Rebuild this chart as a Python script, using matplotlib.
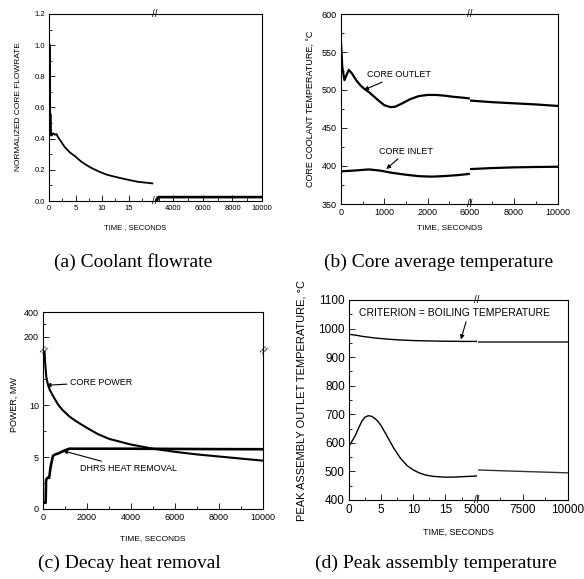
import matplotlib
matplotlib.use("Agg")
import matplotlib.pyplot as plt
import numpy as np
from matplotlib.ticker import MultipleLocator, FixedLocator

plt.rcParams['font.family'] = ['Liberation Sans', 'DejaVu Sans']

# (a) normalized core flowrate
fa_t1 = [0.2, 0.22, 0.27, 0.35, 0.5, 0.8, 1.1, 1.4, 1.7, 2.2, 3, 4, 5, 6, 7, 8, 9.5, 11, 12.5, 14, 15.5, 17, 18.5, 19.5]
fa_v1 = [1.0, 0.42, 0.56, 0.44, 0.42, 0.435, 0.425, 0.43, 0.41, 0.385, 0.345, 0.31, 0.285, 0.255, 0.232, 0.212, 0.188, 0.168, 0.155, 0.143, 0.132, 0.122, 0.117, 0.113]
fa_t2 = [2850, 3000, 10000]
fa_v2 = [0.0, 0.025, 0.025]

# (b) core coolant temperature
out_t1 = [0, 30, 80, 130, 180, 250, 350, 450, 550, 650, 750, 870, 1000, 1140, 1250, 1400, 1600, 1800, 2000, 2200, 2400, 2600, 2800, 2950]
out_v1 = [563, 530, 513, 520, 526.5, 522, 513, 506, 501, 497, 492, 486, 480, 477.5, 478, 482, 488, 492, 493.5, 493.5, 492.5, 491, 490, 489]
out_t2 = [6050, 7000, 8000, 9000, 10000]
out_v2 = [486, 484, 482.5, 481, 479]
in_t1 = [0, 300, 640, 900, 1180, 1500, 1800, 2100, 2400, 2700, 2950]
in_v1 = [393, 394, 395.5, 394, 391, 388.5, 386.6, 386, 386.8, 388, 389.5]
in_t2 = [6050, 7000, 8000, 9000, 10000]
in_v2 = [396, 397.3, 398.2, 398.7, 399]

# (c) decay heat removal
pw_t = [60, 100, 150, 220, 300, 400, 530, 700, 900, 1200, 1500, 2000, 2500, 3000, 4000, 5000, 6000, 7000, 8000, 9000, 10000]
pw_v = [15.5, 14.0, 12.7, 12.0, 11.5, 11.1, 10.6, 10.0, 9.5, 8.9, 8.45, 7.8, 7.2, 6.75, 6.2, 5.8, 5.5, 5.25, 5.05, 4.85, 4.65]
dh_t = [0, 120, 140, 200, 280, 350, 450, 550, 700, 850, 1000, 1200, 2000, 4000, 6000, 8000, 10000]
dh_v = [0.6, 0.6, 2.8, 3.0, 3.0, 4.1, 5.1, 5.25, 5.35, 5.5, 5.65, 5.8, 5.8, 5.8, 5.78, 5.76, 5.75]

# (d) peak assembly outlet temperature
cr_t1 = [0, 1, 2, 3, 4, 6, 8, 10, 12, 14, 16, 18, 19.8]
cr_v1 = [980, 977, 973, 970, 967, 963, 960, 958, 957, 956, 955.5, 955, 955]
cr_t2 = [5100, 10000]
cr_v2 = [954, 954]
pk_t1 = [0, 0.5, 1, 1.5, 2, 2.5, 3, 3.5, 4, 4.5, 5, 6, 7, 8, 9, 10, 11, 12, 13, 14, 15, 16, 17, 18, 19, 19.8]
pk_v1 = [588, 607, 627, 652, 676, 690, 695, 693, 686, 675, 660, 620, 580, 546, 521, 505, 494, 487, 483, 481, 480, 480, 481, 482, 483, 484]
pk_t2 = [5100, 7500, 10000]
pk_v2 = [505, 500, 495]

W, H = 584, 579
fig = plt.figure(figsize=(W / 100, H / 100), dpi=100)


def box(l, t, r, b):
    return [l / W, 1 - b / H, (r - l) / W, (b - t) / H]


def style(ax, size):
    ax.patch.set_alpha(0)
    for s in ax.spines.values():
        s.set_linewidth(0.8)
    ax.tick_params(which='both', direction='in', top=False, right=False, labelsize=size, pad=3)
    ax.tick_params(which='major', length=4, width=0.6)
    ax.tick_params(which='minor', length=2.5, width=0.6)


def split_x(l, m, r, t, b, size):
    a1 = fig.add_axes(box(l, t, m, b))
    a2 = fig.add_axes(box(m, t, r, b))
    a1.spines['right'].set_visible(False)
    a2.spines['left'].set_visible(False)
    style(a1, size)
    style(a2, size)
    a2.tick_params(axis='y', which='both', left=False, labelleft=False)
    for y in (0, 1):
        a1.text(1, y, '//', transform=a1.transAxes, ha='center', va='center', fontsize=7)
    return a1, a2


LW = 1.3

# ---- (a)
a1, a2 = split_x(49, 155, 262, 14, 201, 5.5)
a1.plot(fa_t1, fa_v1, color='k', lw=LW, zorder=3)
a2.plot(fa_t2, fa_v2, color='k', lw=LW + 0.6)
a1.set_xlim(0, 20)
a2.set_xlim(2750, 10000)
for a in (a1, a2):
    a.set_ylim(0, 1.2)
a1.yaxis.set_major_locator(MultipleLocator(0.2))
a1.yaxis.set_minor_locator(MultipleLocator(0.1))
a1.yaxis.set_major_formatter(plt.FormatStrFormatter('%.1f'))
a1.xaxis.set_major_locator(FixedLocator([0, 5, 10, 15]))
a1.xaxis.set_minor_locator(MultipleLocator(2.5))
a2.xaxis.set_major_locator(FixedLocator([4000, 6000, 8000, 10000]))
a2.xaxis.set_minor_locator(MultipleLocator(1000))
fig.text(19 / W, 1 - 107 / H, 'NORMALIZED CORE FLOWRATE', rotation=90, ha='center', va='center', fontsize=6)
fig.text(135 / W, 1 - 228 / H, 'TIME , SECONDS', ha='center', va='center', fontsize=5.5)

# ---- (b)
b1, b2 = split_x(341, 470, 558, 14, 204, 6.5)
b1.plot(out_t1, out_v1, color='k', lw=LW + 0.3)
b2.plot(out_t2, out_v2, color='k', lw=LW + 0.3)
b1.plot(in_t1, in_v1, color='k', lw=LW + 0.3)
b2.plot(in_t2, in_v2, color='k', lw=LW + 0.3)
b1.set_xlim(0, 2980)
b2.set_xlim(6000, 10000)
for a in (b1, b2):
    a.set_ylim(350, 600)
b1.yaxis.set_major_locator(MultipleLocator(50))
b1.yaxis.set_minor_locator(MultipleLocator(25))
b1.xaxis.set_major_locator(FixedLocator([0, 1000, 2000]))
b1.xaxis.set_minor_locator(MultipleLocator(500))
b2.xaxis.set_major_locator(FixedLocator([6000, 8000, 10000]))
b2.xaxis.set_minor_locator(MultipleLocator(1000))
arw = dict(arrowstyle='-|>', color='k', lw=0.8, mutation_scale=6, shrinkA=0, shrinkB=0)
b1.annotate('CORE OUTLET', xy=(530, 500), xytext=(600, 520), fontsize=6.5, va='center', arrowprops=arw)
b1.annotate('CORE INLET', xy=(1046, 396), xytext=(885, 419), fontsize=6.5, va='center', arrowprops=arw)
fig.text(310 / W, 1 - 109 / H, 'CORE COOLANT TEMPERATURE, \u00b0C', rotation=90, ha='center', va='center', fontsize=6.5)
fig.text(450 / W, 1 - 228 / H, 'TIME, SECONDS', ha='center', va='center', fontsize=6)

# ---- (c)
cu = fig.add_axes(box(43, 312, 263, 351))
cl = fig.add_axes(box(43, 351, 263, 509))
cu.spines['bottom'].set_visible(False)
cl.spines['top'].set_visible(False)
style(cu, 6.5)
style(cl, 6.5)
cu.tick_params(axis='x', which='both', bottom=False, labelbottom=False)
for a in (cu, cl):
    a.plot(pw_t, pw_v, color='k', lw=LW + 0.2)
    a.plot(dh_t, dh_v, color='k', lw=LW + 0.6)
    a.set_xlim(0, 10000)
cu.set_ylim(84, 400)
cl.set_ylim(0, 15.2)
cu.yaxis.set_major_locator(FixedLocator([200, 400]))
cu.yaxis.set_minor_locator(FixedLocator([300]))
cl.yaxis.set_major_locator(FixedLocator([0, 5, 10]))
cl.yaxis.set_minor_locator(FixedLocator([2.5, 7.5, 12.5]))
cl.xaxis.set_major_locator(MultipleLocator(2000))
cl.xaxis.set_minor_locator(MultipleLocator(1000))
for x in (0, 1):
    cl.text(x, 1, '//', transform=cl.transAxes, ha='center', va='center', fontsize=7, rotation=-30)
cl.annotate('CORE POWER', xy=(150, 11.9), xytext=(1212, 12.2), fontsize=6.5, va='center', arrowprops=arw)
cl.annotate('DHRS HEAT REMOVAL', xy=(910, 5.6), xytext=(1667, 3.9), fontsize=6.5, va='center', arrowprops=arw)
fig.text(14 / W, 1 - 405 / H, 'POWER, MW', rotation=90, ha='center', va='center', fontsize=6.5)
fig.text(153 / W, 1 - 539 / H, 'TIME, SECONDS', ha='center', va='center', fontsize=6)

# ---- (d)
d1, d2 = split_x(349, 477, 568, 300, 500, 8.5)
d1.plot(cr_t1, cr_v1, color='k', lw=1.0)
d2.plot(cr_t2, cr_v2, color='#555555', lw=1.4)
d1.plot(pk_t1, pk_v1, color='k', lw=1.0)
d2.plot(pk_t2, pk_v2, color='#333333', lw=1.0)
d1.set_xlim(0, 19.9)
d2.set_xlim(5000, 10000)
for a in (d1, d2):
    a.set_ylim(400, 1100)
d1.yaxis.set_major_locator(MultipleLocator(100))
d1.yaxis.set_minor_locator(MultipleLocator(50))
d1.xaxis.set_major_locator(FixedLocator([0, 5, 10, 15]))
d1.xaxis.set_minor_locator(MultipleLocator(2.5))
d2.xaxis.set_major_locator(FixedLocator([5000, 7500, 10000]))
d2.xaxis.set_minor_locator(FixedLocator([6250, 8750]))
d1.text(1.55, 1055, 'CRITERION = BOILING TEMPERATURE', fontsize=7.5, va='center', zorder=5)
d1.annotate('', xy=(17.4, 962), xytext=(18.2, 1024), arrowprops=arw)
fig.text(302 / W, 1 - 400 / H, 'PEAK ASSEMBLY OUTLET TEMPERATURE, \u00b0C', rotation=90, ha='center', va='center', fontsize=8)
fig.text(458 / W, 1 - 532 / H, 'TIME, SECONDS', ha='center', va='center', fontsize=6.5)

# captions
cap = dict(ha='center', va='center', fontsize=14, family=['Liberation Serif', 'DejaVu Serif'])
fig.text(133 / W, 1 - 262 / H, '(a) Coolant flowrate', **cap)
fig.text(439 / W, 1 - 262 / H, '(b) Core average temperature', **cap)
fig.text(129 / W, 1 - 563 / H, '(c) Decay heat removal', **cap)
fig.text(436 / W, 1 - 563 / H, '(d) Peak assembly temperature', **cap)

fig.savefig('out.png', dpi=100)
